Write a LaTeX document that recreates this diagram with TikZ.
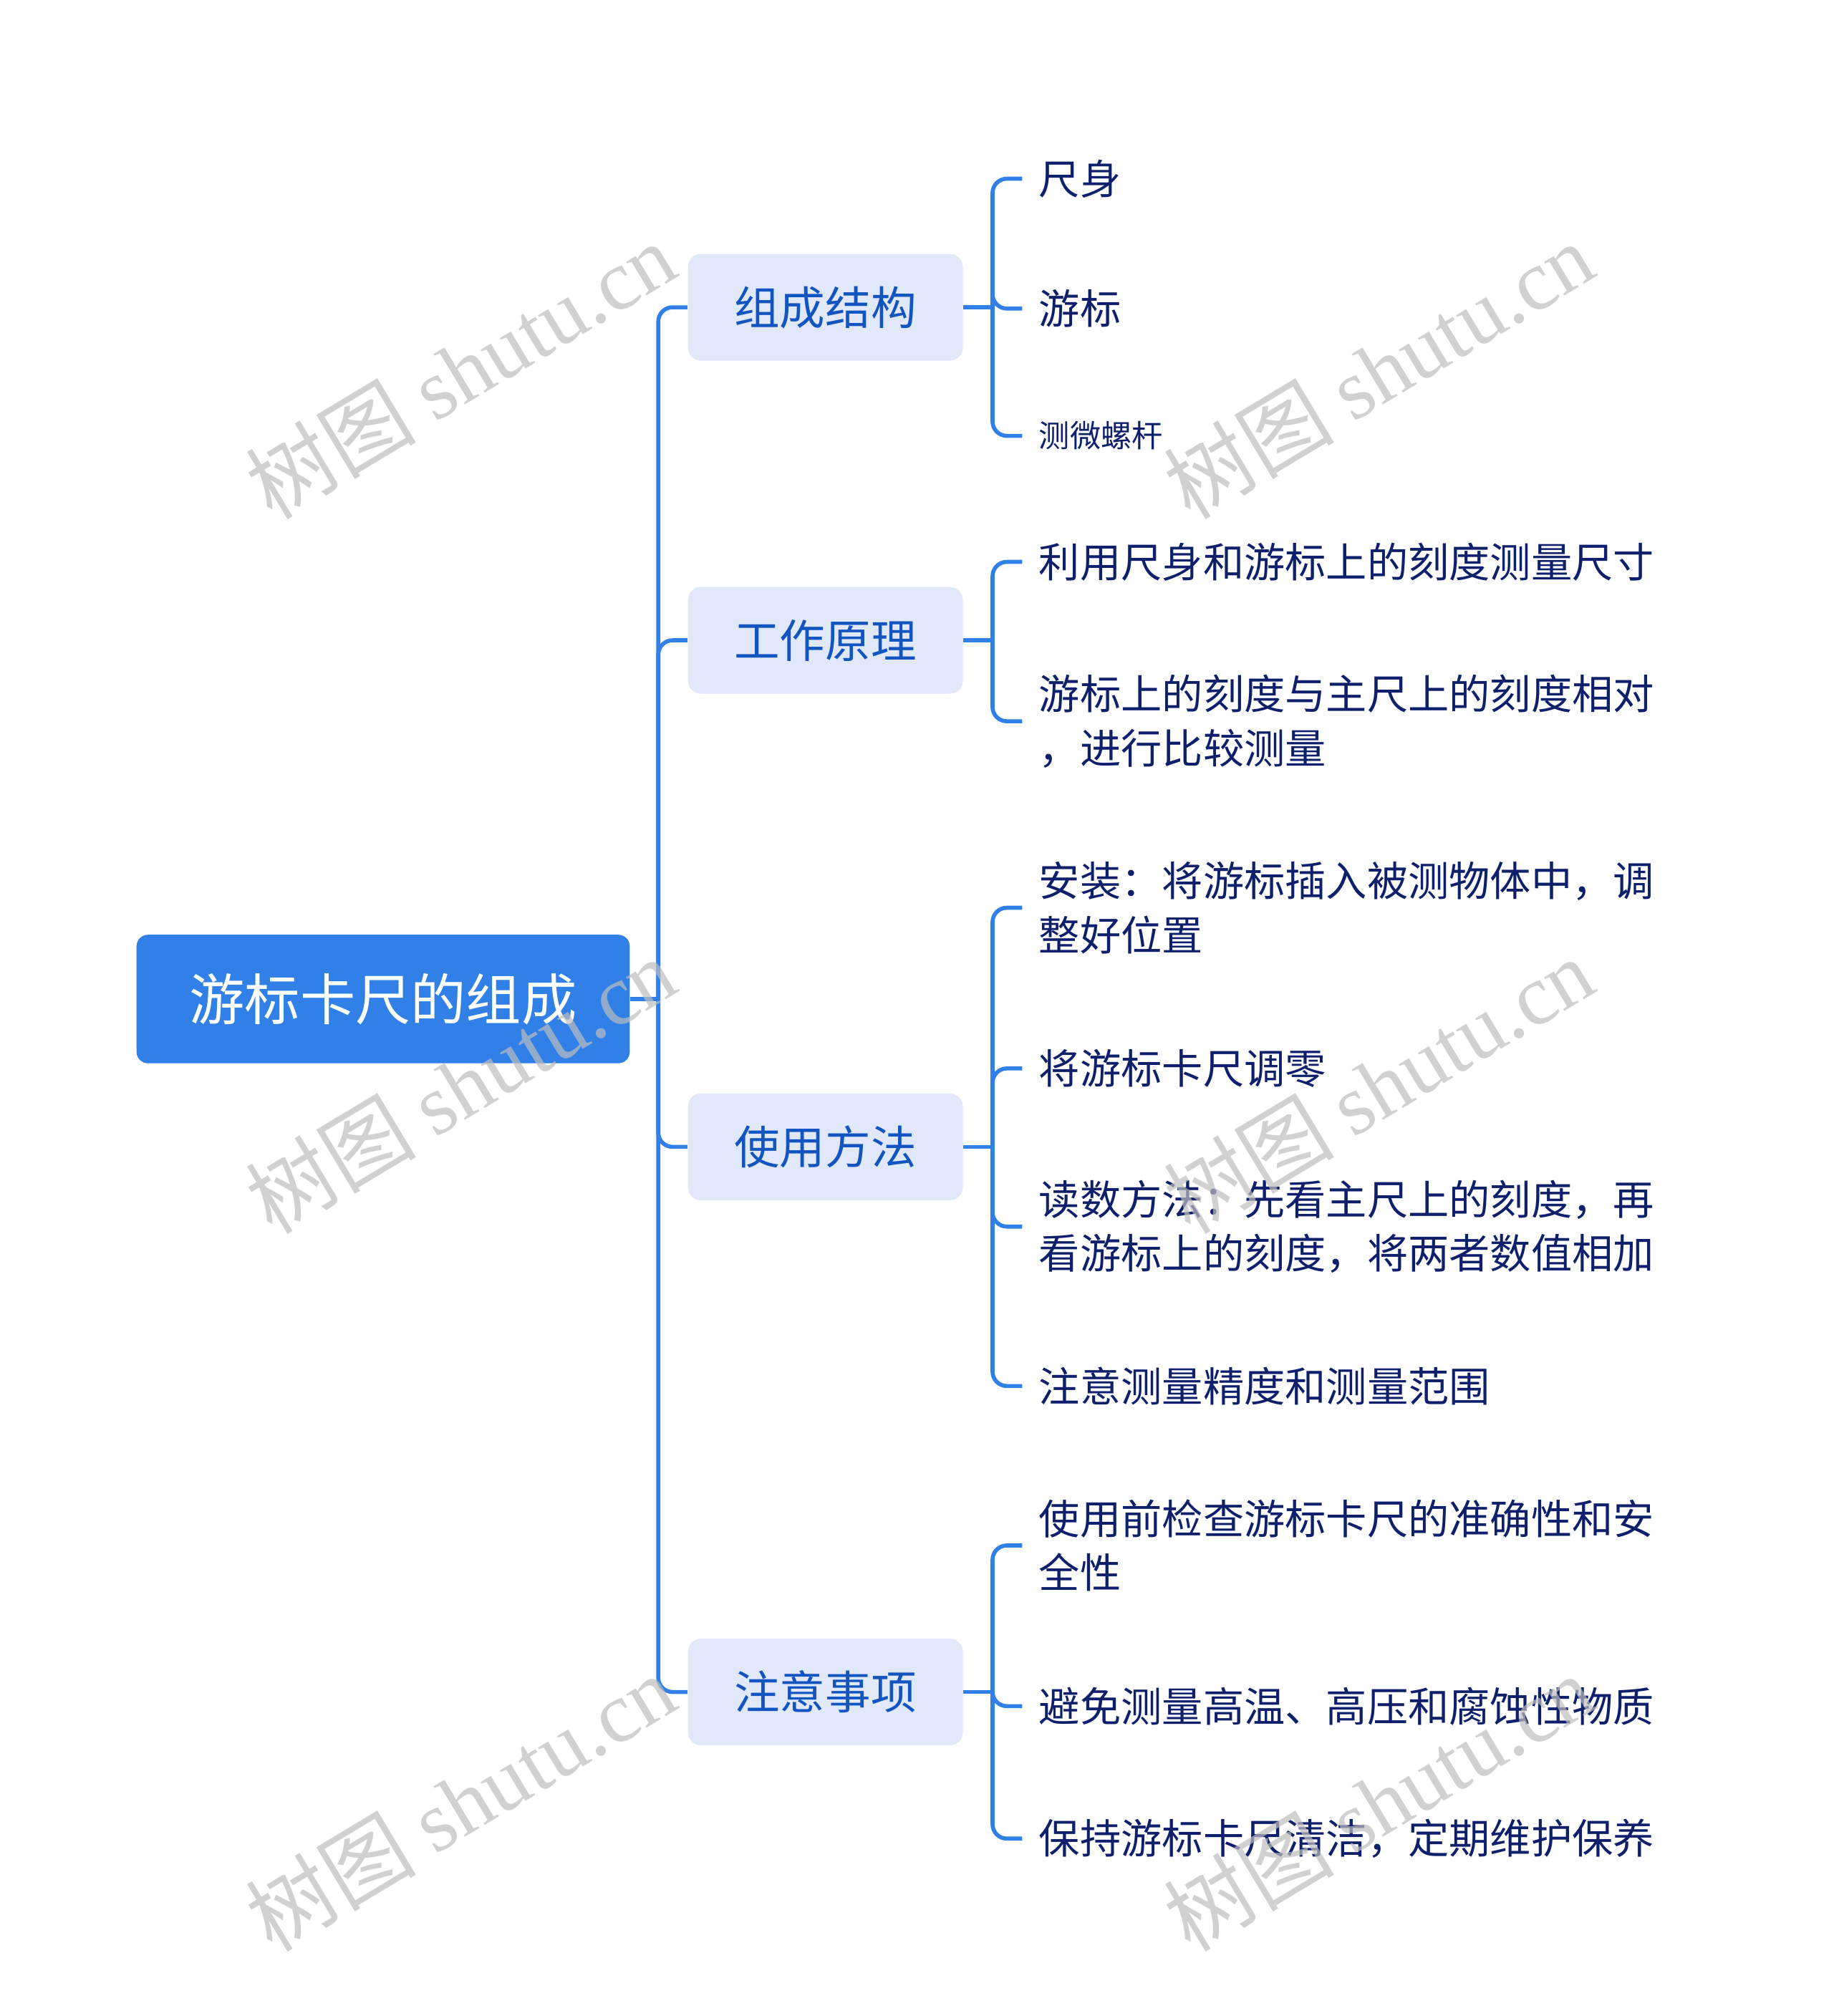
\documentclass[tikz,border=0pt]{standalone}
\usepackage{fontspec}
\setmainfont{Noto Sans CJK SC}
\newfontfamily\markcjk{Noto Sans CJK SC}
\newfontfamily\marklatin{Liberation Serif}
\definecolor{rootblue}{RGB}{48,128,232}
\definecolor{topicfill}{RGB}{224,232,250}
\definecolor{topictext}{RGB}{18,84,192}
\definecolor{leaftext}{RGB}{14,32,108}
\definecolor{markgray}{RGB}{190,190,190}
\tikzset{
    x=0.017952cm,
    y=-0.017952cm,
    root box/.style={rectangle,rounded corners=0.16cm,fill=rootblue,text=white,
        minimum width=6.89cm,minimum height=1.795cm,font=\fontsize{22pt}{26pt}\selectfont},
    topic box/.style={rectangle,rounded corners=0.18cm,fill=topicfill,text=topictext,
        minimum width=3.84cm,minimum height=1.49cm,font=\fontsize{18.1pt}{22pt}\selectfont},
    leaf text/.style={anchor=west,align=left,inner xsep=0.23cm,inner ysep=0pt,
        text=leaftext,font=\fontsize{16.3pt}{21.5pt}\selectfont},
    small leaf/.style={leaf text,font=\fontsize{12.3pt}{15pt}\selectfont},
    link/.style={draw=rootblue,line width=1.6pt},
    bend link/.style={link,rounded corners=0.2cm,to path={|- (\tikztotarget)}},
    watermark/.style={text=markgray,opacity=0.7,rotate=31,font=\fontsize{34pt}{38pt}\selectfont}
}
\begin{document}
\begin{tikzpicture}
    \useasboundingbox (0,0) rectangle (1426,1568);
    % root and topics
    \node[root box] (0) at (298,777) {游标卡尺的组成};
    \node[topic box] (1) at (642,239) {组成结构};
    \node[topic box] (2) at (642,498) {工作原理};
    \node[topic box] (3) at (642,892) {使用方法};
    \node[topic box] (4) at (642,1316) {注意事项};
    % leaves
    \node[leaf text] (1a) at (795,139) {尺身};
    \node[leaf text] (1b) at (795,240) {游标};
    \node[small leaf] (1c) at (795,339) {测微螺杆};
    \node[leaf text] (2a) at (795,437) {利用尺身和游标上的刻度测量尺寸};
    \node[leaf text] (2b) at (795,561) {游标上的刻度与主尺上的刻度相对\\，进行比较测量};
    \node[leaf text] (3a) at (795,706) {安装：将游标插入被测物体中，调\\整好位置};
    \node[leaf text] (3b) at (795,831) {将游标卡尺调零};
    \node[leaf text] (3c) at (795,954) {读数方法：先看主尺上的刻度，再\\看游标上的刻度，将两者数值相加};
    \node[leaf text] (3d) at (795,1078) {注意测量精度和测量范围};
    \node[leaf text] (4a) at (795,1202) {使用前检查游标卡尺的准确性和安\\全性};
    \node[leaf text] (4b) at (795,1327) {避免测量高温、高压和腐蚀性物质};
    \node[leaf text] (4c) at (795,1430) {保持游标卡尺清洁，定期维护保养};
    % junctions
    \coordinate (0j) at (512,777);
    \coordinate (1j) at (772,239);
    \coordinate (2j) at (772,498);
    \coordinate (3j) at (772,892);
    \coordinate (4j) at (772,1316);
    \draw[link] (0.east) -- (0j);
    \draw[link] (1.east) -- (1j);
    \draw[link] (2.east) -- (2j);
    \draw[link] (3.east) -- (3j);
    \draw[link] (4.east) -- (4j);
    \path
        (0j) edge [bend link] (1)
        (0j) edge [bend link] (2)
        (0j) edge [bend link] (3)
        (0j) edge [bend link] (4)
        (1j) edge [bend link] (1a)
        (1j) edge [bend link] (1b)
        (1j) edge [bend link] (1c)
        (2j) edge [bend link] (2a)
        (2j) edge [bend link] (2b)
        (3j) edge [bend link] (3a)
        (3j) edge [bend link] (3b)
        (3j) edge [bend link] (3c)
        (3j) edge [bend link] (3d)
        (4j) edge [bend link] (4a)
        (4j) edge [bend link] (4b)
        (4j) edge [bend link] (4c)
        ;
    % watermarks
    \foreach \wx in {358,1072}
        \foreach \wy in {288,844,1402}
            \node[watermark] (mark-\wx-\wy) at (\wx,\wy) {{\markcjk 树图} {\marklatin shutu.cn}};
\end{tikzpicture}
\end{document}
